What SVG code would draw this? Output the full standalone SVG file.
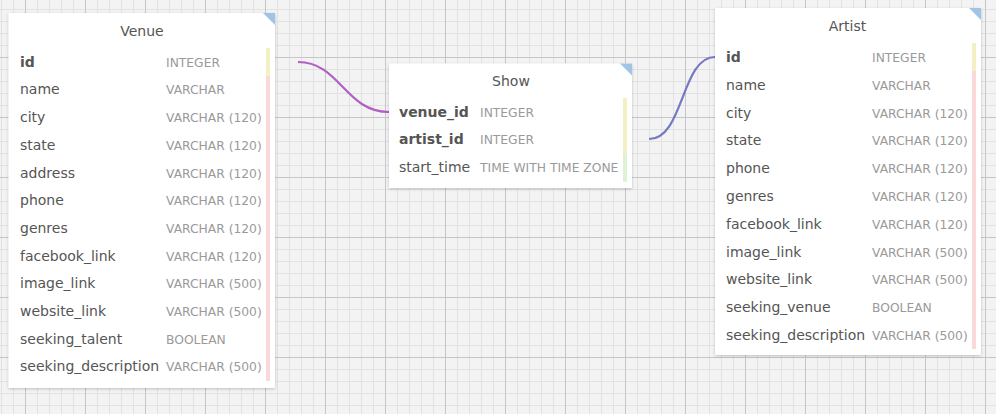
<svg xmlns="http://www.w3.org/2000/svg" width="996" height="414" viewBox="0 0 996 414">
<defs>
<pattern id="minor" patternUnits="userSpaceOnUse" x="1" y="9" width="12" height="12">
<path d="M0.5,0 V12 M0,0.5 H12" fill="none" stroke="#e2e2e2" stroke-width="1"/>
</pattern>
<pattern id="major" patternUnits="userSpaceOnUse" x="25" y="57" width="60" height="60">
<path d="M0.5,0 V60 M0,0.5 H60" fill="none" stroke="#c6c6c6" stroke-width="1"/>
</pattern>
<filter id="sh" x="-10%" y="-10%" width="120%" height="120%">
<feDropShadow dx="0" dy="1" stdDeviation="1.5" flood-color="#000" flood-opacity="0.22"/>
</filter>
</defs>
<style>
.box{fill:#ffffff;filter:url(#sh)}
.tri{fill:#9fc4e6}
.hdr{font-family:"DejaVu Sans",sans-serif;font-size:14px;fill:#555555;text-anchor:middle}
.nm{font-family:"DejaVu Sans",sans-serif;font-size:14px;fill:#555555}
.pk{font-weight:bold}
.ty{font-family:"DejaVu Sans",sans-serif;font-size:12.3px;fill:#9a9a9a}
.yel{fill:#f3f1c4}
.pnk{fill:#fcd9d9}
.grn{fill:#dcf3d6}
.conn{fill:none;stroke-width:2.2}
</style>
<rect width="996" height="414" fill="#f3f3f3"/>
<rect width="996" height="414" fill="url(#minor)"/>
<rect width="996" height="414" fill="url(#major)"/>

<g id="connectors">
<path class="conn" stroke="#b060c2" d="M298,62 C340,62 345,112 389,112"/>
<path class="conn" stroke="#7479c6" d="M649,139 C684,139 681,57 715,57"/>
</g>

<g id="venue">
<rect class="box" x="8.5" y="13" width="266.5" height="375"/>
<path class="tri" d="M263,13 H275 V25 Z"/>
<text class="hdr" x="142" y="36">Venue</text>
<rect class="yel" x="266" y="48" width="4" height="28"/>
<rect class="pnk" x="266" y="76" width="4" height="305"/>
<text class="nm pk" x="20" y="66.7">id</text><text class="ty" x="166" y="66.7">INTEGER</text>
<text class="nm" x="20" y="94.4">name</text><text class="ty" x="166" y="94.4">VARCHAR</text>
<text class="nm" x="20" y="122.1">city</text><text class="ty" x="166" y="122.1">VARCHAR (120)</text>
<text class="nm" x="20" y="149.8">state</text><text class="ty" x="166" y="149.8">VARCHAR (120)</text>
<text class="nm" x="20" y="177.5">address</text><text class="ty" x="166" y="177.5">VARCHAR (120)</text>
<text class="nm" x="20" y="205.2">phone</text><text class="ty" x="166" y="205.2">VARCHAR (120)</text>
<text class="nm" x="20" y="232.9">genres</text><text class="ty" x="166" y="232.9">VARCHAR (120)</text>
<text class="nm" x="20" y="260.6">facebook_link</text><text class="ty" x="166" y="260.6">VARCHAR (120)</text>
<text class="nm" x="20" y="288.3">image_link</text><text class="ty" x="166" y="288.3">VARCHAR (500)</text>
<text class="nm" x="20" y="316">website_link</text><text class="ty" x="166" y="316">VARCHAR (500)</text>
<text class="nm" x="20" y="343.7">seeking_talent</text><text class="ty" x="166" y="343.7">BOOLEAN</text>
<text class="nm" x="20" y="371.4">seeking_description</text><text class="ty" x="166" y="371.4">VARCHAR (500)</text>
</g>

<g id="show">
<rect class="box" x="389" y="63.5" width="243" height="124.5"/>
<path class="tri" d="M620,63.5 H632 V75.5 Z"/>
<text class="hdr" x="511" y="86">Show</text>
<rect class="yel" x="623" y="98" width="4" height="56"/>
<rect class="grn" x="623" y="154" width="4" height="28"/>
<text class="nm pk" x="399" y="116.7">venue_id</text><text class="ty" x="480" y="116.7">INTEGER</text>
<text class="nm pk" x="399" y="144.4">artist_id</text><text class="ty" x="480" y="144.4">INTEGER</text>
<text class="nm" x="399" y="172.2">start_time</text><text class="ty" x="480" y="172.2">TIME WITH TIME ZONE</text>
</g>

<g id="artist">
<rect class="box" x="715" y="8" width="266" height="347"/>
<path class="tri" d="M969,8 H981 V20 Z"/>
<text class="hdr" x="847.5" y="31">Artist</text>
<rect class="yel" x="972" y="43" width="4" height="28"/>
<rect class="pnk" x="972" y="71" width="4" height="278"/>
<text class="nm pk" x="726" y="62">id</text><text class="ty" x="872" y="62">INTEGER</text>
<text class="nm" x="726" y="89.8">name</text><text class="ty" x="872" y="89.8">VARCHAR</text>
<text class="nm" x="726" y="117.6">city</text><text class="ty" x="872" y="117.6">VARCHAR (120)</text>
<text class="nm" x="726" y="145.4">state</text><text class="ty" x="872" y="145.4">VARCHAR (120)</text>
<text class="nm" x="726" y="173.2">phone</text><text class="ty" x="872" y="173.2">VARCHAR (120)</text>
<text class="nm" x="726" y="201">genres</text><text class="ty" x="872" y="201">VARCHAR (120)</text>
<text class="nm" x="726" y="228.8">facebook_link</text><text class="ty" x="872" y="228.8">VARCHAR (120)</text>
<text class="nm" x="726" y="256.6">image_link</text><text class="ty" x="872" y="256.6">VARCHAR (500)</text>
<text class="nm" x="726" y="284.4">website_link</text><text class="ty" x="872" y="284.4">VARCHAR (500)</text>
<text class="nm" x="726" y="312.2">seeking_venue</text><text class="ty" x="872" y="312.2">BOOLEAN</text>
<text class="nm" x="726" y="340">seeking_description</text><text class="ty" x="872" y="340">VARCHAR (500)</text>
</g>
</svg>
